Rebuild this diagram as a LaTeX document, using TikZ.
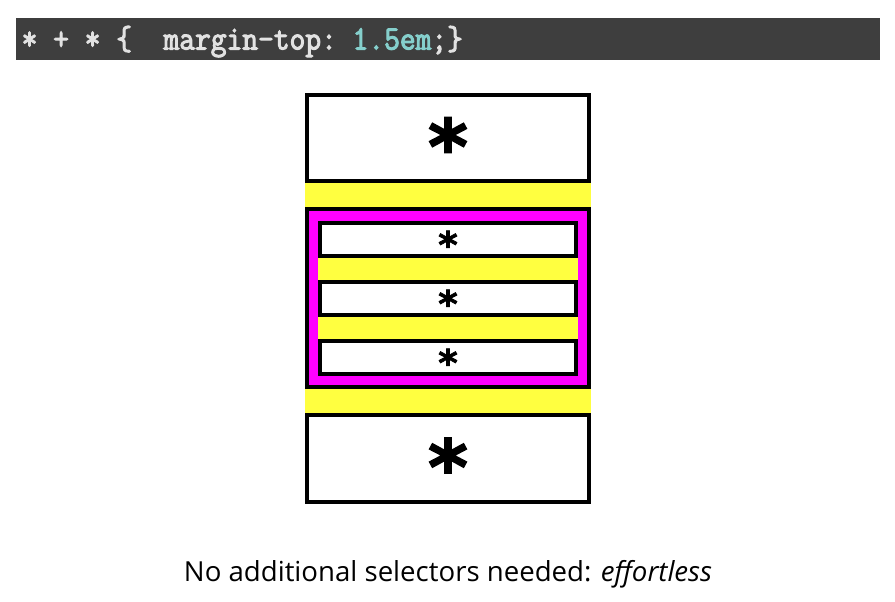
\documentclass[tikz,border=0pt]{standalone}
\usepackage{fontspec}
\setsansfont{Open Sans}
\newfontfamily\codefont{Latin Modern Mono}[FakeStretch=0.9,FakeBold=3]
\newfontfamily\starfont{DejaVu Sans}[BoldFeatures={FakeBold=2}]
\usetikzlibrary{positioning}

\definecolor{barbg}{HTML}{3E3E3E}
\definecolor{codetxt}{HTML}{E2E2E2}
\definecolor{codenum}{HTML}{85CFCC}
\definecolor{cssyellow}{HTML}{FFFF40}
\definecolor{cssmagenta}{HTML}{FF00FF}

\newcommand{\bigast}{\smash{\fontsize{76}{76}\selectfont\starfont\bfseries\raisebox{-.47em}{*}}}
\newcommand{\smallast}{\smash{\fontsize{37}{37}\selectfont\starfont\bfseries\raisebox{-.51em}{*}}}

\begin{document}
\begin{tikzpicture}[
  x=1pt, y=-1pt,
  codebar/.style={
    fill=barbg,
    minimum width=864pt,
    minimum height=42pt,
    inner sep=0pt
  },
  code/.style={
    text=codetxt,
    font=\codefont\fontsize{34}{34}\selectfont,
    inner sep=0pt
  },
  elem/.style={
    draw=black,
    line width=4pt,
    fill=white,
    inner sep=0pt,
    outer sep=2pt,
    minimum width=282pt
  },
  parent/.style={
    elem,
    fill=cssmagenta,
    minimum height=178pt
  },
  child/.style={
    elem,
    minimum width=256pt,
    minimum height=32.5pt
  },
  gap/.style={fill=cssyellow},
  caption/.style={font=\sffamily\fontsize{27.6}{32}\selectfont, inner sep=0pt}
]
\useasboundingbox (0,0) rectangle (895,602);

% the rule
\node[codebar, anchor=north west] (bar) at (16,17.5) {};
\node[code, anchor=base west] (rule) at (21.5,49.5)
  {*~+~*~\{~~margin-top:~\textcolor{codenum}{1.5em};\}};

% the stack of boxes
\node[elem, minimum height=86pt] (first) at (448,138) {\bigast};
\node[parent, below=24pt of first] (wrap) {};
\node[child, below=14pt of wrap.north] (inner1) {\smallast};
\node[child, below=22.5pt of inner1] (inner2) {\smallast};
\node[child, below=22.5pt of inner2] (inner3) {\smallast};
\node[elem, minimum height=87pt, below=24pt of wrap] (last) {\bigast};

% margins
\fill[gap] (first.south west) rectangle (wrap.north east);
\fill[gap] (inner1.south west) rectangle (inner2.north east);
\fill[gap] (inner2.south west) rectangle (inner3.north east);
\fill[gap] (wrap.south west) rectangle (last.north east);

\node[caption, anchor=base] (note) at (448,581)
  {No additional selectors needed: \textit{effortless}};
\end{tikzpicture}
\end{document}
